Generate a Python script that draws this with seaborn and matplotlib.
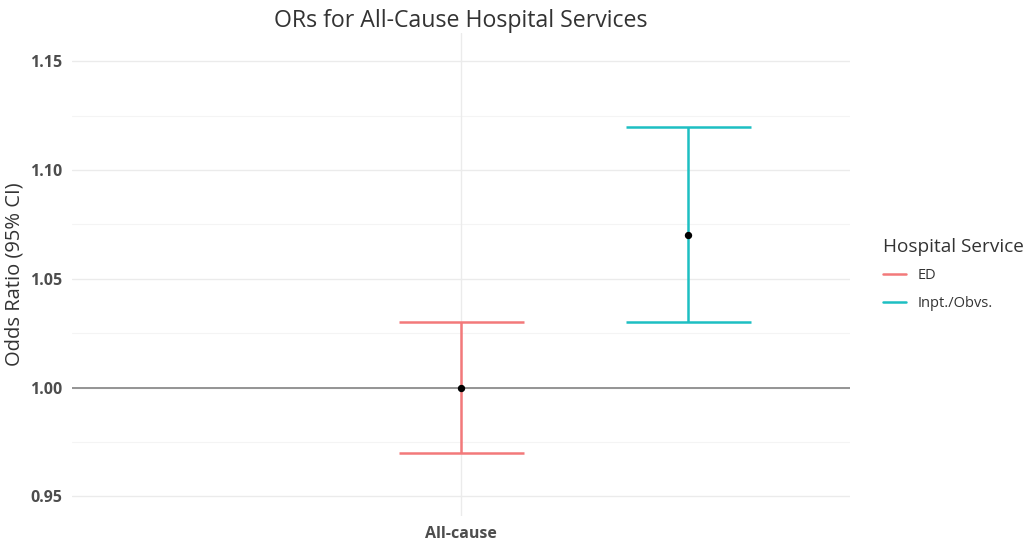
import numpy as np
import pandas as pd
import seaborn as sns
import matplotlib
import matplotlib.pyplot as plt
from matplotlib.lines import Line2D

matplotlib.use('Agg')

# data
services = ['ED', 'Inpt./Obvs.']
odds_ratio = [1.00, 1.07]
ci_low = [0.97, 1.03]
ci_high = [1.03, 1.12]
category = 'All-cause'
dodge = [0.0, 0.35]   # horizontal offset of each service from the category tick
colors = ['#F3797A', '#1DBFC2']

df = pd.DataFrame({'service': services, 'or': odds_ratio,
                   'lo': ci_low, 'hi': ci_high, 'x': dodge})

sns.set_theme(style='white')
plt.rcParams['font.family'] = ['Open Sans', 'DejaVu Sans']

fig = plt.figure(figsize=(10.29, 5.5), dpi=100)
ax = fig.add_axes([0.070, 0.062, 0.756, 0.878])

# grid like ggplot theme_minimal
for y in np.arange(0.95, 1.151, 0.05):
    ax.axhline(y, color='#ebebeb', lw=1.0, zorder=0)
for y in np.arange(0.975, 1.16, 0.05):
    ax.axhline(y, color='#f4f4f4', lw=0.8, zorder=0)
ax.axvline(0, color='#ebebeb', lw=1.0, zorder=0)

# reference line at OR = 1
ax.axhline(1.0, color='#8c8c8c', lw=1.3, zorder=1)

for i, row in df.iterrows():
    ax.errorbar(row['x'], row['or'],
                yerr=[[row['or'] - row['lo']], [row['hi'] - row['or']]],
                fmt='none', ecolor=colors[i], elinewidth=1.8,
                capsize=45, capthick=1.8, zorder=2)

sns.scatterplot(data=df, x='x', y='or', color='black', s=28,
                edgecolor='black', linewidth=0, ax=ax, zorder=3, legend=False)

ax.set_xlim(-0.6, 0.6)
ax.set_ylim(0.941, 1.163)
ax.set_xticks([0])
ax.set_xticklabels([category])
ax.set_yticks([0.95, 1.00, 1.05, 1.10, 1.15])
ax.set_yticklabels(['0.95', '1.00', '1.05', '1.10', '1.15'])
ax.tick_params(axis='both', length=0, labelsize=11.5, labelcolor='#4d4d4d', pad=7)
for lab in ax.get_xticklabels() + ax.get_yticklabels():
    lab.set_fontweight('bold')

ax.set_xlabel('')
ax.set_ylabel('Odds Ratio (95% CI)', fontsize=14.5, color='#333333', labelpad=4)
ax.set_title('ORs for All-Cause Hospital Services', fontsize=16.7,
             color='#333333', pad=4)
sns.despine(ax=ax, left=True, bottom=True)

handles = [Line2D([0], [0], color=c, lw=1.8) for c in colors]
leg = ax.legend(handles, services, title='Hospital Service', loc='center left',
                bbox_to_anchor=(1.025, 0.5), frameon=False, fontsize=10.5,
                title_fontsize=13.7, handlelength=1.6, labelspacing=0.85)
leg._legend_box.align = 'left'
for t in leg.get_texts():
    t.set_color('#333333')
leg.get_title().set_color('#333333')

plt.savefig('out.png', dpi=100)
plt.close()
